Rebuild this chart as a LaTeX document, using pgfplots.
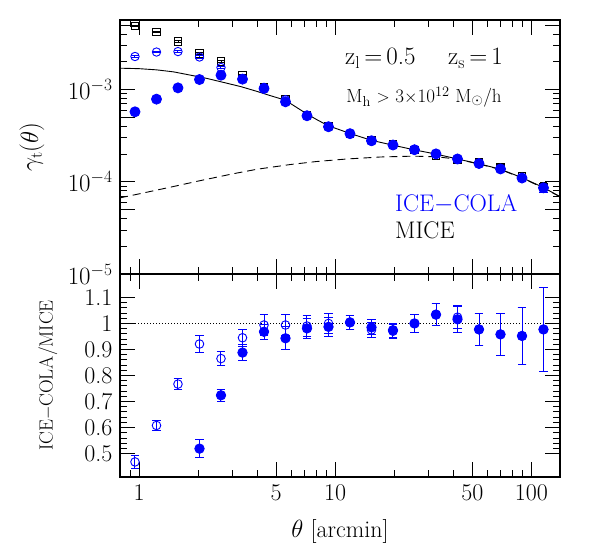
\documentclass[border=0pt]{standalone}
\usepackage{pgfplots}
\usepackage{pgfplotstable}
\pgfplotsset{compat=1.18}
\definecolor{colablue}{RGB}{0,0,255}

% gamma_t, filled ICE-COLA
\pgfplotstableread{
x y e
0.954 5.75e-4 0.30e-4
1.228 7.89e-4 0.30e-4
1.580 1.046e-3 0.03e-3
2.034 1.288e-3 0.03e-3
2.618 1.435e-3 0.03e-3
3.370 1.30e-3 0.03e-3
4.337 1.03e-3 0.025e-3
5.582 7.38e-4 0.20e-4
7.184 5.21e-4 0.15e-4
9.247 3.96e-4 0.10e-4
11.90 3.33e-4 0.08e-4
15.32 2.79e-4 0.07e-4
19.71 2.51e-4 0.06e-4
25.37 2.23e-4 0.06e-4
32.66 2.01e-4 0.06e-4
42.03 1.77e-4 0.06e-4
54.10 1.58e-4 0.07e-4
69.63 1.38e-4 0.08e-4
89.62 1.10e-4 0.09e-4
115.3 8.61e-5 0.10e-4
}\colafill
% gamma_t, open ICE-COLA
\pgfplotstableread{
x y e
0.954 2.29e-3 0.06e-3
1.228 2.56e-3 0.06e-3
1.580 2.59e-3 0.06e-3
2.034 2.26e-3 0.06e-3
2.618 1.74e-3 0.05e-3
3.370 1.32e-3 0.04e-3
4.337 1.058e-3 0.03e-3
5.582 7.78e-4 0.20e-4
7.184 5.26e-4 0.15e-4
9.247 4.01e-4 0.10e-4
11.90 3.33e-4 0.08e-4
15.32 2.76e-4 0.07e-4
19.71 2.50e-4 0.06e-4
25.37 2.23e-4 0.06e-4
32.66 2.00e-4 0.06e-4
42.03 1.78e-4 0.06e-4
54.10 1.58e-4 0.07e-4
69.63 1.38e-4 0.08e-4
89.62 1.10e-4 0.09e-4
115.3 8.60e-5 0.10e-4
}\colaopen
% gamma_t, MICE
\pgfplotstableread{
x y e
0.954 4.90e-3 0.08e-3
1.228 4.22e-3 0.07e-3
1.580 3.34e-3 0.06e-3
2.034 2.48e-3 0.05e-3
2.618 2.02e-3 0.04e-3
3.370 1.44e-3 0.03e-3
4.337 1.064e-3 0.025e-3
5.582 7.83e-4 0.20e-4
7.184 5.31e-4 0.15e-4
9.247 4.01e-4 0.10e-4
11.90 3.32e-4 0.08e-4
15.32 2.83e-4 0.07e-4
19.71 2.58e-4 0.06e-4
25.37 2.23e-4 0.06e-4
32.66 1.94e-4 0.06e-4
42.03 1.74e-4 0.07e-4
54.10 1.62e-4 0.08e-4
69.63 1.44e-4 0.10e-4
89.62 1.155e-4 0.10e-4
115.3 8.80e-5 0.10e-4
}\mice
% model curves
\pgfplotstableread{
x y
0.8 1.71e-3
1.0 1.69e-3
1.23 1.64e-3
1.5 1.56e-3
1.82 1.44e-3
2.2 1.33e-3
2.69 1.20e-3
3.3 1.08e-3
3.98 9.6e-4
4.6 8.7e-4
5.56 7.7e-4
6.3 6.5e-4
7.18 5.45e-4
8.1 4.7e-4
9.25 4.05e-4
11.9 3.35e-4
15.3 2.82e-4
19.7 2.50e-4
25.4 2.22e-4
32.7 2.00e-4
42 1.77e-4
54.1 1.57e-4
69.6 1.37e-4
89.6 1.11e-4
115 8.7e-5
140 6.9e-5
}\totalmodel
\pgfplotstableread{
x y
0.8 6.7e-5
1.0 7.4e-5
1.5 8.9e-5
2.05 1.03e-4
3.0 1.22e-4
4.0 1.37e-4
5.9 1.54e-4
8.0 1.66e-4
11.5 1.77e-4
17 1.86e-4
25 1.90e-4
33 1.87e-4
42 1.76e-4
54.1 1.56e-4
69.6 1.36e-4
89.6 1.10e-4
115 8.6e-5
140 6.9e-5
}\twohalo
% ratios
\pgfplotstableread{
x y e
0.954 0.468 0.024
1.228 0.608 0.018
1.580 0.767 0.022
2.034 0.921 0.032
2.618 0.865 0.027
3.370 0.945 0.032
4.337 0.994 0.041
5.582 0.994 0.041
7.184 0.990 0.040
9.247 1.000 0.040
11.90 1.004 0.027
15.32 0.975 0.029
19.71 0.970 0.027
25.37 1.000 0.033
32.66 1.034 0.043
42.03 1.024 0.045
54.10 0.977 0.062
69.63 0.958 0.081
89.62 0.952 0.111
115.3 0.977 0.163
}\ratioopen
\pgfplotstableread{
x y e
2.034 0.519 0.034
2.618 0.724 0.022
3.370 0.888 0.030
4.337 0.968 0.029
5.582 0.943 0.045
7.184 0.981 0.038
9.247 0.987 0.037
11.90 1.004 0.027
15.32 0.985 0.029
19.71 0.974 0.027
25.37 1.000 0.033
32.66 1.034 0.043
42.03 1.016 0.049
54.10 0.977 0.062
69.63 0.958 0.081
89.62 0.952 0.111
115.3 0.977 0.163
}\ratiofill

\begin{document}
\begin{tikzpicture}
\useasboundingbox (0,0) rectangle (592pt,548pt);
% upper panel
\begin{axis}[
  scale only axis, width=440pt, height=254pt,
  at={(120pt,274pt)}, anchor=south west,
  xmode=log, ymode=log,
  xmin=0.8, xmax=140, ymin=1e-5, ymax=5.7e-3,
  axis line style={line width=1.1pt},
  major tick length=15pt, minor tick length=7pt,
  every tick/.style={black, line width=0.9pt},
  xtick={1,5,10,50,100}, xticklabels={},
  minor xtick={0.8,0.9,2,3,4,6,7,8,9,20,30,40,60,70,80,90},
  ytick={1e-5,1e-4,1e-3},
  minor ytick={2e-5,3e-5,4e-5,6e-5,7e-5,8e-5,9e-5,2e-4,3e-4,4e-4,6e-4,7e-4,8e-4,9e-4,2e-3,3e-3,4e-3},
  extra y ticks={5e-5,5e-4,5e-3}, extra y tick labels={},
  tick label style={font=\fontsize{24}{28}\selectfont},
  yticklabel style={xshift=-4pt},
  ylabel={$\gamma_{\rm t}(\theta)$},
  y label style={at={(axis description cs:-0.2,0.5)}, anchor=center, font=\fontsize{24}{28}\selectfont},
]
\addplot[black, line width=0.9pt] table[x=x,y=y] {\totalmodel};
\addplot[black, line width=0.9pt, dash pattern=on 8pt off 5pt] table[x=x,y=y] {\twohalo};
\addplot[black, only marks, mark=square, mark size=3.7pt, line width=0.9pt,
  error bars/.cd, y dir=both, y explicit,
  error bar style={line width=0.9pt, black},
  error mark options={rotate=90, mark size=3.7pt, line width=0.9pt, black}]
  table[x=x,y=y,y error=e] {\mice};
\addplot[colablue, only marks, mark=o, mark size=4.2pt, line width=0.9pt,
  error bars/.cd, y dir=both, y explicit,
  error bar style={line width=1pt, colablue},
  error mark options={rotate=90, mark size=4.2pt, line width=1pt, colablue}]
  table[x=x,y=y,y error=e] {\colaopen};
\addplot[colablue, only marks, mark=*, mark size=5pt, mark options={fill=colablue}, line width=0.9pt,
  error bars/.cd, y dir=both, y explicit,
  error bar style={line width=1pt, colablue},
  error mark options={rotate=90, mark size=4.2pt, line width=1pt, colablue}]
  table[x=x,y=y,y error=e] {\colafill};
\node[font=\fontsize{25}{30}\selectfont] at (rel axis cs:0.691,0.85) {z$_{\rm l}$\,=\,0.5\quad\ z$_{\rm s}$\,=\,1};
\node[font=\fontsize{19}{23}\selectfont] at (rel axis cs:0.691,0.697) {M$_{\rm h}$ $>$ 3$\times$10$^{12}$ M$_\odot$/h};
\node[font=\fontsize{24}{28}\selectfont, text=colablue, anchor=west, inner sep=0pt] at (rel axis cs:0.625,0.276) {ICE$-$COLA};
\node[font=\fontsize{24}{28}\selectfont, anchor=west, inner sep=0pt] at (rel axis cs:0.625,0.173) {MICE};
\end{axis}
% lower panel
\begin{axis}[
  scale only axis, width=440pt, height=203pt,
  at={(120pt,71pt)}, anchor=south west,
  xmode=log,
  xmin=0.8, xmax=140, ymin=0.41, ymax=1.19,
  axis line style={line width=1.1pt},
  major tick length=15pt, minor tick length=7pt,
  every tick/.style={black, line width=0.9pt},
  xtick={1,5,10,50,100}, xticklabels={1,5,10,50,100},
  minor xtick={0.8,0.9,2,3,4,6,7,8,9,20,30,40,60,70,80,90},
  ytick={0.5,0.6,0.7,0.8,0.9,1,1.1},
  yticklabels={0.5,0.6,0.7,0.8,0.9,1,1.1},
  minor y tick num=4,
  tick label style={font=\fontsize{24}{28}\selectfont},
  yticklabel style={xshift=-4pt},
  xticklabel style={yshift=-4pt},
  xlabel={$\theta$ [arcmin]},
  x label style={at={(axis description cs:0.5,-0.27)}, anchor=center, font=\fontsize{24}{28}\selectfont},
  ylabel={ICE$-$COLA/MICE},
  y label style={at={(axis description cs:-0.164,0.5)}, anchor=center, font=\fontsize{19}{23}\selectfont},
]
\addplot[black, line width=0.8pt, dash pattern=on 1pt off 2pt] coordinates {(0.8,1) (140,1)};
\addplot[colablue, only marks, mark=o, mark size=4.3pt, line width=0.9pt,
  error bars/.cd, y dir=both, y explicit,
  error bar style={line width=1pt, colablue},
  error mark options={rotate=90, mark size=4.3pt, line width=1pt, colablue}]
  table[x=x,y=y,y error=e] {\ratioopen};
\addplot[colablue, only marks, mark=*, mark size=4.7pt, mark options={fill=colablue}, line width=0.9pt,
  error bars/.cd, y dir=both, y explicit,
  error bar style={line width=1pt, colablue},
  error mark options={rotate=90, mark size=4.3pt, line width=1pt, colablue}]
  table[x=x,y=y,y error=e] {\ratiofill};
\end{axis}
\end{tikzpicture}
\end{document}
